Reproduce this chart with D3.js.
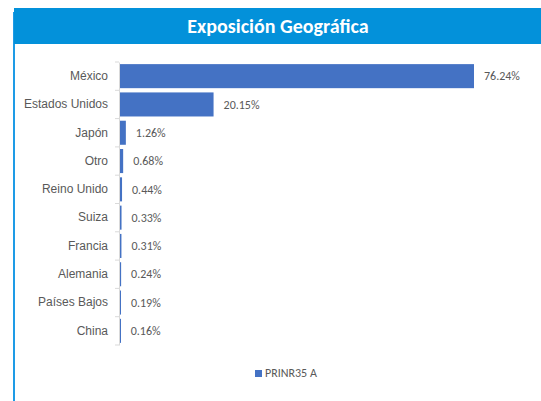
<!DOCTYPE html>
<html>
<head>
<meta charset="utf-8">
<script src="https://cdn.jsdelivr.net/npm/d3@7"></script>
<style>
  body { margin: 0; background: #fff; }
  svg { display: block; font-family: Calibri, Carlito, 'Liberation Sans', 'Open Sans', sans-serif; }
</style>
</head>
<body>
<div id="chart"></div>
<script>
const countries = ['México', 'Estados Unidos', 'Japón', 'Otro', 'Reino Unido', 'Suiza', 'Francia', 'Alemania', 'Países Bajos', 'China'];
const shares = [76.24, 20.15, 1.26, 0.68, 0.44, 0.33, 0.31, 0.24, 0.19, 0.16];
const seriesName = 'PRINR35 A';
const title = 'Exposición Geográfica';

const data = countries.map((c, i) => ({ country: c, value: shares[i] }));

const size = { width: 541, height: 401 };
const margin = { top: 62, right: 67, bottom: 56, left: 119 };

const svg = d3
  .select('#chart')
  .append('svg')
  .attr('width', size.width)
  .attr('height', size.height);

// left border of the panel
svg
  .append('rect')
  .attr('x', 13)
  .attr('y', 12)
  .attr('width', 2)
  .attr('height', size.height - 12)
  .attr('fill', '#1E9BE6');

// title bar
svg
  .append('rect')
  .attr('x', 14)
  .attr('y', 8)
  .attr('width', size.width - 14)
  .attr('height', 36)
  .attr('fill', '#0391DA');

svg
  .append('text')
  .attr('x', 278)
  .attr('y', 33)
  .attr('text-anchor', 'middle')
  .attr('fill', '#fff')
  .attr('font-weight', 'bold')
  .style('font-size', '20px')
  .text(title);

const x = d3
  .scaleLinear()
  .domain([0, 76.24])
  .range([margin.left + 1, 474]);

const y = d3
  .scaleBand()
  .domain(countries)
  .range([margin.top, size.height - margin.bottom])
  .paddingInner(0.15)
  .paddingOuter(0.075);

// category axis
const yAxis = svg
  .append('g')
  .attr('transform', `translate(${margin.left}, 0)`)
  .call(d3.axisLeft(y).tickSize(0).tickPadding(11));

yAxis.select('.domain').attr('stroke', '#D9D9D9');
yAxis
  .selectAll('text')
  .attr('fill', '#595959')
  .style('font-size', '12px')
  .style('font-family', 'inherit');

// small ticks between categories
const step = y.step();
const boundaries = d3.range(countries.length + 1).map((i) => margin.top + i * step);
svg
  .selectAll('.sep')
  .data(boundaries)
  .enter()
  .append('line')
  .attr('x1', margin.left - 4)
  .attr('x2', margin.left)
  .attr('y1', (d) => d)
  .attr('y2', (d) => d)
  .attr('stroke', '#D9D9D9');

svg
  .selectAll('.bar')
  .data(data)
  .enter()
  .append('rect')
  .attr('x', x(0))
  .attr('y', (d) => y(d.country))
  .attr('width', (d) => Math.max(1, x(d.value) - x(0)))
  .attr('height', y.bandwidth())
  .attr('fill', '#4472C4');

svg
  .selectAll('.lbl')
  .data(data)
  .enter()
  .append('text')
  .attr('x', (d) => x(d.value) + 10)
  .attr('y', (d) => y(d.country) + y.bandwidth() / 2)
  .attr('dy', '0.35em')
  .attr('fill', '#595959')
  .style('font-size', '12px')
  .text((d) => `${d.value.toFixed(2)}%`);

// legend
const legend = svg.append('g').attr('transform', 'translate(255, 370)');
legend
  .append('rect')
  .attr('width', 7)
  .attr('height', 7)
  .attr('fill', '#4472C4');
legend
  .append('text')
  .attr('x', 10)
  .attr('y', 7)
  .attr('fill', '#595959')
  .style('font-size', '12px')
  .text(seriesName);
</script>
</body>
</html>
